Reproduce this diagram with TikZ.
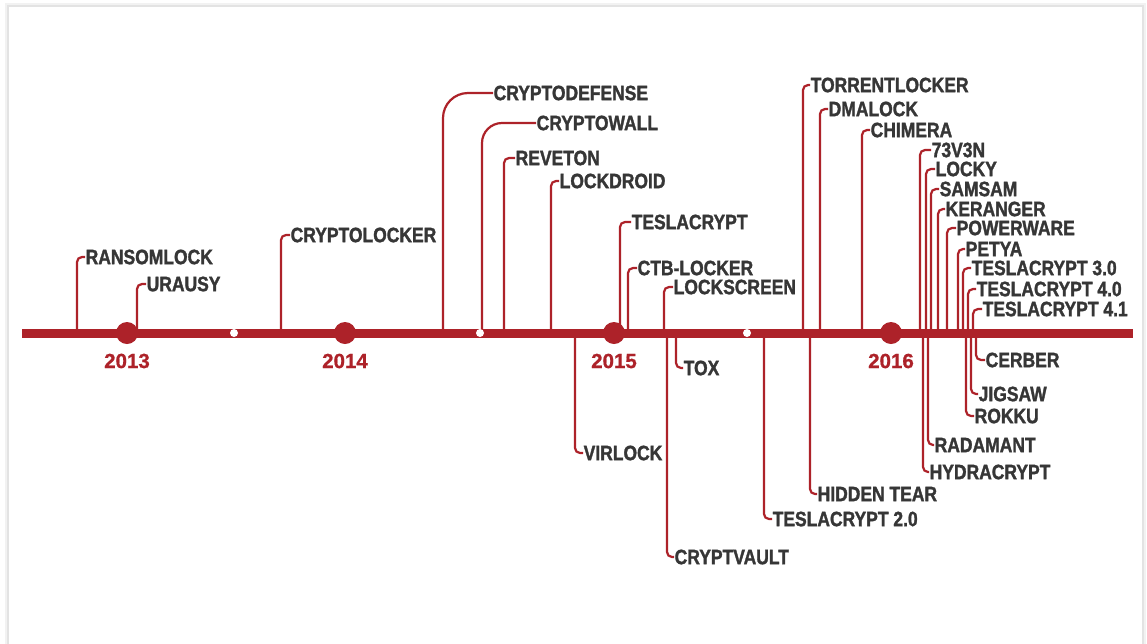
\documentclass[tikz,border=0pt]{standalone}
\usepackage{fontspec}
\setmainfont{Liberation Sans}
\newfontfamily\labfont{Liberation Sans Bold}[FakeStretch=0.84,FakeBold=1.5]
\newfontfamily\yrfont{Liberation Sans Bold}[FakeBold=0.8]
\definecolor{tlred}{HTML}{AD2229}
\definecolor{tlgray}{HTML}{363636}
\newcommand\evt[6]{%
  \node[lbl] (#1) at (#4,#3) {#5};
  \coordinate (#1b) at (#2,333);
  \draw[lead,rounded corners=#6pt] (#1b) |- (#1.west);}
\begin{document}
\begin{tikzpicture}[x=1pt,y=-1pt,
  lbl/.style={anchor=west,inner sep=0.5pt,text=tlgray,font=\labfont\fontsize{20.8}{22}\selectfont},
  lead/.style={draw=tlred,line width=2.2pt},
  yr/.style={text=tlred,inner sep=0pt,font=\yrfont\fontsize{20.5}{22}\selectfont},
  ydot/.style={circle,fill=tlred,minimum size=22pt,inner sep=0pt},
  wdot/.style={circle,fill=white,minimum size=8pt,inner sep=0pt}]
\useasboundingbox (0,0) rectangle (1147,643);
\fill[white] (0,0) rectangle (1147,643);
\draw[black!5,line width=6pt] (8,6) rectangle (1143,660);
\draw[black!11,line width=2pt] (8,6) rectangle (1143,660);
\fill[white] (9,7) rectangle (1142,660);
% above
\evt{ransomlock}{77}{257}{85}{RANSOMLOCK}{5}
\evt{urausy}{137}{284}{146}{URAUSY}{5}
\evt{cryptolocker}{281}{235}{290}{CRYPTOLOCKER}{5}
\evt{cryptodefense}{443}{93}{493}{CRYPTODEFENSE}{25}
\evt{cryptowall}{482}{123}{536}{CRYPTOWALL}{20}
\evt{reveton}{504}{158}{515}{REVETON}{5}
\evt{lockdroid}{551}{181}{559}{LOCKDROID}{5}
\evt{teslacrypt}{620}{222}{631}{TESLACRYPT}{5}
\evt{ctblocker}{628}{268}{637}{CTB-LOCKER}{5}
\evt{lockscreen}{664}{287}{673}{LOCKSCREEN}{5}
\evt{torrentlocker}{803}{85}{810}{TORRENTLOCKER}{5}
\evt{dmalock}{820}{109}{828}{DMALOCK}{5}
\evt{chimera}{862}{130}{870}{CHIMERA}{5}
\evt{sevenvn}{920}{150}{931}{73V3N}{5}
\evt{locky}{926}{169}{935}{LOCKY}{5}
\evt{samsam}{931}{189}{939}{SAMSAM}{5}
\evt{keranger}{938}{209}{945}{KERANGER}{5}
\evt{powerware}{947}{228}{956}{POWERWARE}{5}
\evt{petya}{958}{249}{965}{PETYA}{5}
\evt{tcthree}{963}{268}{971}{TESLACRYPT 3.0}{5}
\evt{tcfour}{968}{289}{976}{TESLACRYPT 4.0}{5}
\evt{tcfourone}{973}{309}{982}{TESLACRYPT 4.1}{5}
% below
\evt{virlock}{575}{453}{583}{VIRLOCK}{5}
\evt{cryptvault}{667}{557}{674}{CRYPTVAULT}{5}
\evt{tox}{676}{368}{683}{TOX}{5}
\evt{tctwo}{764}{519}{772}{TESLACRYPT 2.0}{5}
\evt{hiddentear}{810}{494}{817}{HIDDEN TEAR}{5}
\evt{hydracrypt}{923}{472}{929}{HYDRACRYPT}{5}
\evt{radamant}{928}{445}{934}{RADAMANT}{5}
\evt{rokku}{966}{416}{974}{ROKKU}{5}
\evt{jigsaw}{971}{394}{978}{JIGSAW}{5}
\evt{cerber}{976}{360}{985}{CERBER}{5}
% main line
\coordinate (L) at (22,333);
\coordinate (R) at (1133,333);
\draw[tlred,line width=9pt] (L) -- (R);
\node[ydot] (d13) at (127,333) {};
\node[ydot] (d14) at (345,333) {};
\node[ydot] (d15) at (614,333) {};
\node[ydot] (d16) at (891,333) {};
\node[wdot] (w1) at (234,333) {};
\node[wdot] (w2) at (480,333) {};
\node[wdot] (w3) at (747,333) {};
\node[yr] (y13) at (127,361) {2013};
\node[yr] (y14) at (345,361) {2014};
\node[yr] (y15) at (614,361) {2015};
\node[yr] (y16) at (891,361) {2016};
\end{tikzpicture}
\end{document}
